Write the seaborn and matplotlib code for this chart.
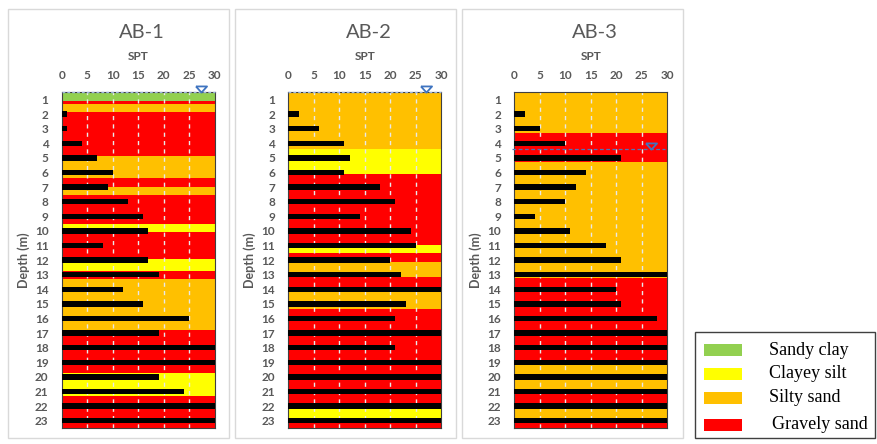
import matplotlib
matplotlib.use("Agg")
import matplotlib.pyplot as plt
from matplotlib.patches import Rectangle
import numpy as np
import pandas as pd
import seaborn as sns

# --- data -------------------------------------------------------------------
boreholes = ["AB-1", "AB-2", "AB-3"]
depths = list(range(1, 24))

spt_ab1 = [0, 1, 1, 4, 7, 10, 9, 13, 16, 17, 8, 17, 19, 12, 16, 25, 19, 30, 30, 19, 24, 30, 30]
spt_ab2 = [0, 2, 6, 11, 12, 11, 18, 21, 14, 24, 25, 20, 22, 30, 23, 21, 30, 21, 30, 30, 30, 30, 30]
spt_ab3 = [0, 2, 5, 10, 21, 14, 12, 10, 4, 11, 18, 21, 30, 20, 21, 28, 30, 30, 30, 30, 30, 30, 30]

# soil layer boundaries (depth axis units) and the soil in each layer
bounds_ab1 = [0.5, 1.07, 1.30, 1.84, 4.89, 6.39, 6.98, 7.53, 9.50, 10.05, 11.95,
              12.77, 13.29, 16.79, 19.73, 21.34, 23.5]
soil_ab1 = ["Sandy clay", "Gravely sand", "Silty sand", "Gravely sand", "Silty sand",
            "Gravely sand", "Silty sand", "Gravely sand", "Clayey silt", "Gravely sand",
            "Clayey silt", "Gravely sand", "Silty sand", "Gravely sand", "Clayey silt",
            "Gravely sand"]

bounds_ab2 = [0.5, 4.36, 6.07, 10.99, 11.51, 12.13, 13.16, 14.19, 15.33, 22.14, 22.86, 23.5]
soil_ab2 = ["Silty sand", "Clayey silt", "Gravely sand", "Clayey silt", "Gravely sand",
            "Silty sand", "Gravely sand", "Silty sand", "Gravely sand", "Clayey silt",
            "Gravely sand"]

bounds_ab3 = [0.5, 3.31, 5.30, 13.22, 19.15, 21.0, 22.0, 23.0, 23.5]
soil_ab3 = ["Silty sand", "Gravely sand", "Silty sand", "Gravely sand", "Silty sand",
            "Gravely sand", "Silty sand", "Gravely sand"]

# groundwater level: depth and horizontal marker position
wt_depth = [0.5, 0.5, 4.41]
wt_spt = [27.4, 27.0, 26.9]

soil_names = ["Sandy clay", "Clayey silt", "Silty sand", "Gravely sand"]
soil_colors = {"Sandy clay": "#92D050", "Clayey silt": "#FFFF00",
               "Silty sand": "#FFC000", "Gravely sand": "#FF0000"}

# --- styling ------------------------------------------------------------------
sns.set_style("white")
plt.rcParams["font.family"] = ["Lato", "DejaVu Sans"]
TXT = "#595959"

W, H = 877, 444
fig = plt.figure(figsize=(W / 100, H / 100), dpi=100)

def fx(px):
    return px / W

def fy(py):
    return 1 - py / H

plot_left = [61.7, 288.3, 514.3]
plot_w = 153.0
plot_top, plot_bot = 92.3, 428.0
frame_left = [8, 235, 462]
frame_w = 221

spts = [spt_ab1, spt_ab2, spt_ab3]
bounds = [bounds_ab1, bounds_ab2, bounds_ab3]
soils = [soil_ab1, soil_ab2, soil_ab3]

tri = [(-1, 0.55), (1, 0.55), (0, -0.55), (-1, 0.55)]

for i, name in enumerate(boreholes):
    # chart frame
    fig.add_artist(Rectangle((fx(frame_left[i]), fy(438)), fx(frame_w), (438 - 9) / H,
                             transform=fig.transFigure, fill=False,
                             ec="#D9D9D9", lw=1.0))

    ax = fig.add_axes([fx(plot_left[i]), fy(plot_bot), fx(plot_w),
                       (plot_bot - plot_top) / H])

    # soil layers as full-width background bars
    b = bounds[i]
    for top, bot, s in zip(b[:-1], b[1:], soils[i]):
        ax.barh((top + bot) / 2, 30, height=bot - top, left=0,
                color=soil_colors[s], linewidth=0, zorder=0.5)

    # dashed vertical grid
    for g in range(5, 30, 5):
        ax.axvline(g, color="#E8E8E8", lw=1.0, ls=(0, (3, 3)), zorder=1)

    # SPT bars
    df = pd.DataFrame({"depth": depths, "spt": spts[i]})
    sns.barplot(data=df, x="spt", y="depth", orient="h", native_scale=True,
                width=0.37, color="black", saturation=1, linewidth=0,
                ax=ax, zorder=3)

    ax.set_xlim(0, 30)
    ax.set_ylim(23.5, 0.5)
    ax.set_xlabel("")
    ax.set_ylabel("")
    ax.xaxis.tick_top()
    ax.set_xticks(range(0, 31, 5))
    ax.set_yticks(depths)
    ax.set_yticklabels([str(d) for d in depths])
    ax.tick_params(axis="x", length=0, pad=8, labelsize=8.5, labelcolor=TXT)
    ax.tick_params(axis="y", length=0, pad=9.5, labelsize=8.5, labelcolor=TXT)
    for lab in ax.get_xticklabels() + ax.get_yticklabels():
        lab.set_fontweight("bold")
    for sp in ax.spines.values():
        sp.set_visible(True)
        sp.set_color("#404040")
        sp.set_linewidth(0.8)
    ax.grid(False)

    # groundwater level
    if i < 2:
        ax.plot([0, 30], [wt_depth[i], wt_depth[i]], color="#9DB7E0", lw=1.0,
                ls=(0, (2, 1.5)), zorder=5, clip_on=False)
    else:
        ax.plot([-0.5, 29.5], [wt_depth[i], wt_depth[i]], color="#4F74B8", lw=0.9,
                ls=(0, (3, 2)), zorder=5, clip_on=False)
    ax.plot([wt_spt[i]], [wt_depth[i] - 0.22], marker=tri, markersize=8,
            mfc="none" if i == 2 else "white", mec="#3F74C0", mew=1.3,
            zorder=6, clip_on=False, ls="none")

    cx = plot_left[i] + plot_w / 2
    fig.text(fx(cx + 4), fy(33), name, ha="center", va="center",
             fontsize=14.5, color=TXT)
    fig.text(fx(cx), fy(56.5), "SPT", ha="center", va="center",
             fontsize=8.5, fontweight="bold", color=TXT)
    fig.text(fx(plot_left[i] - 38.5), fy((plot_top + plot_bot) / 2), "Depth (m)",
             ha="center", va="center", rotation=90, fontsize=9,
             fontweight="bold", color=TXT)

# legend
fig.add_artist(Rectangle((fx(695), fy(438)), fx(180), (438 - 332) / H,
                         transform=fig.transFigure, fill=False, ec="#404040", lw=1.0))
row_y = [350, 373.5, 398, 424.5]
for name, yy in zip(soil_names, row_y):
    fig.add_artist(Rectangle((fx(703.5), fy(yy + 6)), fx(38), 12 / H,
                             transform=fig.transFigure, fc=soil_colors[name],
                             ec="none"))
    fig.text(fx(769 if name != "Gravely sand" else 771.5), fy(yy), name,
             ha="left", va="center", fontsize=13, color="black",
             family=["Liberation Serif", "DejaVu Serif"])

fig.savefig("out.png", dpi=100)
